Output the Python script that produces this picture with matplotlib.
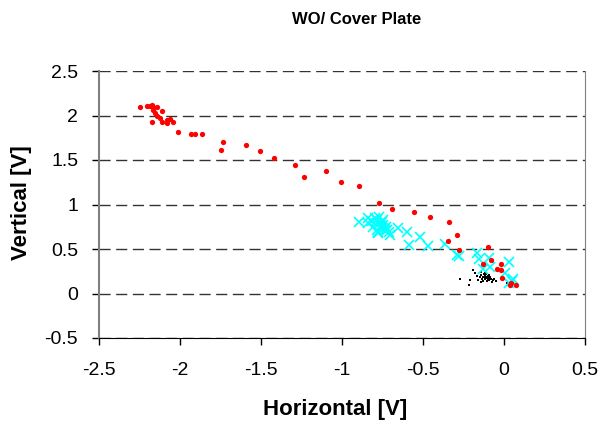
import numpy as np
import matplotlib
matplotlib.use("Agg")
import matplotlib.pyplot as plt

plt.rcParams['font.family'] = ['Liberation Sans', 'DejaVu Sans']

# red points
red_x = [-2.247, -2.202, -2.185, -2.171, -2.169, -2.140, -2.165, -2.154, -2.144, -2.123,
         -2.111, -2.109, -2.082, -2.078, -2.062, -2.045, -2.171, -2.014, -1.932, -1.907,
         -1.864, -1.736, -1.747, -1.591, -1.506, -1.420, -1.292, -1.235, -1.099, -1.008,
         -0.895, -0.770, -0.690, -0.554, -0.457, -0.338, -0.293, -0.346, -0.278, -0.099,
         -0.078, -0.130, -0.019, -0.041, -0.020, -0.011, 0.037, 0.043, 0.071]
red_y = [2.092, 2.107, 2.110, 2.118, 2.092, 2.092, 2.062, 2.025, 1.998, 1.969,
         2.051, 1.930, 1.949, 1.912, 1.957, 1.927, 1.927, 1.818, 1.792, 1.792,
         1.792, 1.699, 1.616, 1.672, 1.601, 1.519, 1.440, 1.306, 1.373, 1.249,
         1.211, 1.020, 0.949, 0.912, 0.856, 0.803, 0.655, 0.587, 0.494, 0.519,
         0.371, 0.329, 0.329, 0.273, 0.264, 0.169, 0.101, 0.118, 0.099]

# cyan crosses
cyan_x = [-0.893, -0.838, -0.838, -0.786, -0.807, -0.765, -0.755, -0.745, -0.786, -0.724,
          -0.776, -0.704, -0.652, -0.601, -0.585, -0.519, -0.467, -0.796, -0.770, -0.745,
          -0.735, -0.708, -0.760, -0.815, -0.750, -0.364, -0.292, -0.276, -0.169, -0.153,
          -0.128, -0.091, -0.086, 0.031, 0.006, 0.057, 0.047, 0.033, -0.780, -0.730]
cyan_y = [0.800, 0.852, 0.789, 0.826, 0.751, 0.789, 0.733, 0.770, 0.713, 0.713,
          0.676, 0.657, 0.733, 0.695, 0.545, 0.631, 0.537, 0.845, 0.863, 0.826,
          0.713, 0.695, 0.760, 0.810, 0.800, 0.556, 0.433, 0.421, 0.452, 0.385,
          0.279, 0.395, 0.301, 0.354, 0.227, 0.167, 0.144, 0.115, 0.690, 0.750]

# black dots
blk_x = [-0.272, -0.210, -0.190, -0.214, -0.176, -0.165, -0.160, -0.150, -0.145, -0.140,
         -0.135, -0.130, -0.128, -0.125, -0.120, -0.118, -0.115, -0.112, -0.110, -0.105,
         -0.100, -0.098, -0.095, -0.092, -0.090, -0.088, -0.085, -0.080, -0.076, -0.070,
         -0.060, -0.050, 0.016, 0.030, -0.140, -0.120, -0.105, -0.095]
blk_y = [0.167, 0.152, 0.264, 0.096, 0.230, 0.200, 0.150, 0.180, 0.245, 0.210,
         0.165, 0.190, 0.140, 0.220, 0.175, 0.200, 0.160, 0.185, 0.215, 0.170,
         0.195, 0.160, 0.180, 0.205, 0.150, 0.175, 0.190, 0.165, 0.133, 0.150,
         0.160, 0.140, 0.115, 0.110, 0.130, 0.230, 0.135, 0.210]

fig = plt.figure(figsize=(6.03, 4.24), dpi=100)
ax = fig.add_axes([99/603, 1-338/424, (585-99)/603, (338-71)/424])

ax.plot(blk_x, blk_y, 's', color='black', markersize=2, markeredgewidth=0)
ax.plot(cyan_x, cyan_y, 'x', color='#00ffff', markersize=7, markeredgewidth=1.2)
ax.plot(red_x, red_y, 'o', color='red', markersize=3.8, markeredgewidth=0)

ax.set_xlim(-2.5, 0.5)
ax.set_ylim(-0.5, 2.5)
ax.set_xticks(np.arange(-2.5, 0.51, 0.5))
ax.set_yticks(np.arange(-0.5, 2.51, 0.5))
ax.set_xticklabels(['-2.5', '-2', '-1.5', '-1', '-0.5', '0', '0.5'])
ax.set_yticklabels(['-0.5', '0', '0.5', '1', '1.5', '2', '2.5'])
ax.tick_params(labelsize=14, length=5, width=1, color='black')
ax.tick_params(axis='x', pad=12)
ax.tick_params(axis='y', pad=10)
ax.yaxis.grid(True, linestyle=(0, (8, 4)), color='#333333', linewidth=1)
ax.set_axisbelow(True)

ax.spines['top'].set_visible(False)
ax.spines['right'].set_color('#808080')
ax.spines['left'].set_color('#808080')
ax.spines['left'].set_linewidth(1.5)
ax.spines['bottom'].set_color('black')

fig.text(335/603, 1-410/424, 'Horizontal [V]', fontsize=16, fontweight='bold',
         ha='center', va='center')
fig.text(22/603, 1-203/424, 'Vertical [V]', fontsize=16, fontweight='bold',
         ha='center', va='center', rotation=90)
fig.text(357/603, 1-19/424, 'WO/ Cover Plate', fontsize=12, fontweight='bold',
         ha='center', va='center')

fig.savefig('out.png', dpi=100)
